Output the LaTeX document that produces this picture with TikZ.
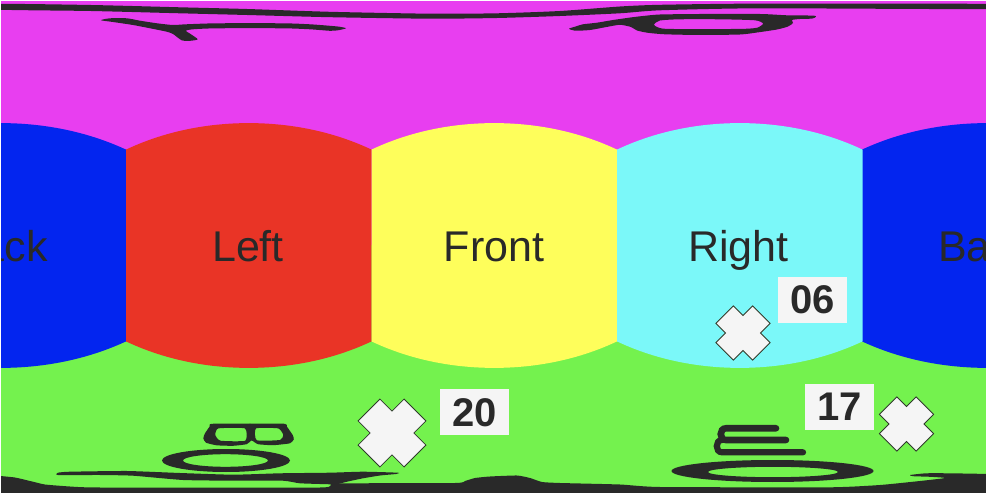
\documentclass[tikz,border=0pt]{standalone}
\usepackage{fontspec}
\newfontfamily\labfont{Liberation Sans}
\definecolor{topc}{HTML}{E83EF0}
\definecolor{botc}{HTML}{74F24E}
\definecolor{backc}{HTML}{0325EF}
\definecolor{leftc}{HTML}{E93426}
\definecolor{frontc}{HTML}{FEFE5B}
\definecolor{rightc}{HTML}{7BF8F9}
\definecolor{inkc}{HTML}{292929}
\definecolor{boxc}{HTML}{F5F5F5}
\definecolor{xline}{HTML}{2E3A2A}
\newcommand{\cubeface}[3]{%
  \fill[#1] plot[domain=-45:45,samples=61] ({#2+\x/45*#3},{245.5-2.72*atan(cos(\x))})
    -- plot[domain=45:-45,samples=61] ({#2+\x/45*#3},{245.5+2.72*atan(cos(\x))}) -- cycle;}
\newcommand{\crossmark}[3]{%
  \begin{scope}[shift={(#1,#2)},rotate=45,scale=#3]
    \filldraw[fill=boxc, draw=xline, line width=0.8pt]
      (32.5,15.5) -- (15.5,15.5) -- (15.5,32.5) -- (-15.5,32.5) -- (-15.5,15.5) -- (-32.5,15.5)
      -- (-32.5,-15.5) -- (-15.5,-15.5) -- (-15.5,-32.5) -- (15.5,-32.5) -- (15.5,-15.5) -- (32.5,-15.5) -- cycle;
  \end{scope}}
\tikzset{
  facelbl/.style={text=inkc, font=\labfont\fontsize{43}{50}\selectfont, inner sep=0pt, anchor=base},
  numbox/.style={fill=boxc, text=inkc, minimum width=69pt, minimum height=46pt, inner sep=0pt,
    font=\labfont\bfseries\fontsize{40}{46}\selectfont},
  glyph/.style={fill=inkc}
}
\begin{document}
\begin{tikzpicture}[x=1pt,y=-1pt]
\useasboundingbox (0,0) rectangle (986,494);
\begin{scope}
\clip (0,0) rectangle (986,494);
% background: top and bottom faces
\fill[topc] (0,0) rectangle (986,245.5);
\fill[botc] (0,245.5) rectangle (986,494);
% side faces
\cubeface{backc}{1}{125}
\cubeface{backc}{987}{125}
\cubeface{leftc}{248.75}{122.75}
\cubeface{frontc}{494.25}{122.75}
\cubeface{rightc}{739.75}{122.75}
% face labels
\node[facelbl] (lback1) at (0,261.5) {Back};
\node[facelbl] (lback2) at (986,261.5) {Back};
\node[facelbl] (lleft) at (248,261.5) {Left};
\node[facelbl] (lfront) at (494,261.5) {Front};
\node[facelbl] (lright) at (738.5,261.5) {Right};
% distorted "Top" text
\fill[glyph] plot[smooth cycle, tension=0.4] coordinates {
  (-5,4) (91,5) (180,7.3) (247,9) (330,11.8) (430,13.7) (497,13.3) (560,11) (620,6.5) (660,4.8)
  (760,3.6) (991,4) (991,9) (760,8.3) (660,10.3) (620,13.3) (560,16) (497,18) (430,18.7)
  (330,17.2) (247,15) (180,13.3) (91,11) (-5,9.5)};
\fill[glyph] plot[smooth cycle, tension=0.4] coordinates {
  (101,20.2) (110,18.3) (127,18.3) (140,20.7) (157,23.3) (173,25) (186,24.3) (217,23.3) (283,23.3)
  (310,24.3) (330,25.8) (340,26.8) (346,28.3) (338,30.3) (330,30.8) (310,29.3) (283,28.3)
  (217,28.3) (193,29.3) (186,30.8) (191,34.3) (197.7,39.3) (190,40.8) (181.7,40.3) (173,34)
  (166.7,31.7) (150,28.3) (133,25) (113,22)};
\fill[glyph, even odd rule] plot[smooth cycle, tension=0.4] coordinates {
  (569,28.7) (575,26.7) (583,24.3) (597,22.7) (613,20) (622,18.7) (632,17.3) (643,16) (660,14.5)
  (700,14) (760,14) (787,15.3) (813,15.6) (816,16.8) (812,18.6) (800,19) (792,20) (793,23)
  (788,26.5) (777,29.5) (757,32.5) (740,34.5) (700,35) (665,34.3) (648,32.8) (637,30.5)
  (631,27) (620,24.8) (607,26.9) (590,30) (575,30.7)}
  plot[smooth cycle, tension=0.4] coordinates {
  (654,24.5) (660,20.5) (680,19.3) (720,19.3) (755,20.3) (763,23.5) (758,27.5) (745,28.8)
  (700,29.2) (665,28.8) (657,27)};
% distorted "Bottom" text
\fill[glyph, even odd rule] plot[smooth cycle, tension=0.3] coordinates {
  (211.7,423.8) (250,423.5) (285,423.8) (287,426.7) (292.7,435) (293.8,439.3) (290,443.3)
  (273,445.2) (258,444.2) (251.7,440.5) (246.7,444.2) (233,445.8) (216.7,445.3) (206,442.7)
  (203.3,438.3) (205,433.3) (209.5,426.7)}
  plot[smooth cycle, tension=0.3] coordinates {
  (218.3,428.4) (245,428.4) (245.3,440.7) (220.5,440.7) (215.3,435)}
  plot[smooth cycle, tension=0.3] coordinates {
  (256,428.4) (278.3,428.4) (283.3,435) (280,440) (256.7,440.2)};
\fill[glyph, even odd rule] (226,460.5) ellipse [x radius=64, y radius=11.5]
  (225.5,460.5) ellipse [x radius=42.5, y radius=6.3];
\fill[glyph, even odd rule] (772.5,471) ellipse [x radius=101, y radius=11]
  (773,472) ellipse [x radius=65, y radius=5.2];
\begin{scope}[draw=inkc, line cap=round]
  \draw[line width=6.6pt] (776,428.3) -- (726,428.3) .. controls (719,428.3) and (719,440) .. (726,440) -- (786,440);
  \draw[line width=6.2pt] (722,440) .. controls (715,440) and (715,452.3) .. (722,452.3) -- (803,452.3);
\end{scope}
\fill[glyph] plot[smooth cycle, tension=0.3] coordinates {
  (58,472.7) (70,471.7) (127,471) (180,473) (233,474.7) (280,473.3) (330,472.7) (363,471.7)
  (398,472.7) (396,474) (380,475.5) (363,478.3) (347,481.7) (336,484.5) (330,484.3) (300,483.3)
  (283,480.7) (233,480.7) (183,480) (133,475.7) (100,475) (58,475)};
\fill[glyph] plot[smooth, tension=0.3] coordinates {
  (-5,475.5) (15,477.5) (30,481) (45,484.5) (70,486.5) (100,487.5) (320,487.5) (335,483.5)
  (455,483) (465,481) (475,478) (490,476.5) (517,475.5) (530,478) (542,482) (560,483)
  (620,484.5) (660,487) (830,487.3) (880,485) (920,481) (945,478) (930,476.8) (913,476.2)
  (910,475) (926,473.3) (950,473.3) (991,474)} -- (991,494) -- (-5,494) -- cycle;
% frame
\fill[white] (0,492.5) rectangle (986,494);
\fill[white] (0,0) rectangle (1,494);
\fill[white] (0,0) rectangle (986,1);
\end{scope}
% markers
\crossmark{392}{433}{1}
\crossmark{743}{333}{0.8}
\crossmark{906.5}{424}{0.8}
% number labels
\node[numbox] (n20) at (474.5,412.5) {20};
\node[numbox] (n06) at (812.5,300) {06};
\node[numbox] (n17) at (839.5,407) {17};
\end{tikzpicture}
\end{document}
